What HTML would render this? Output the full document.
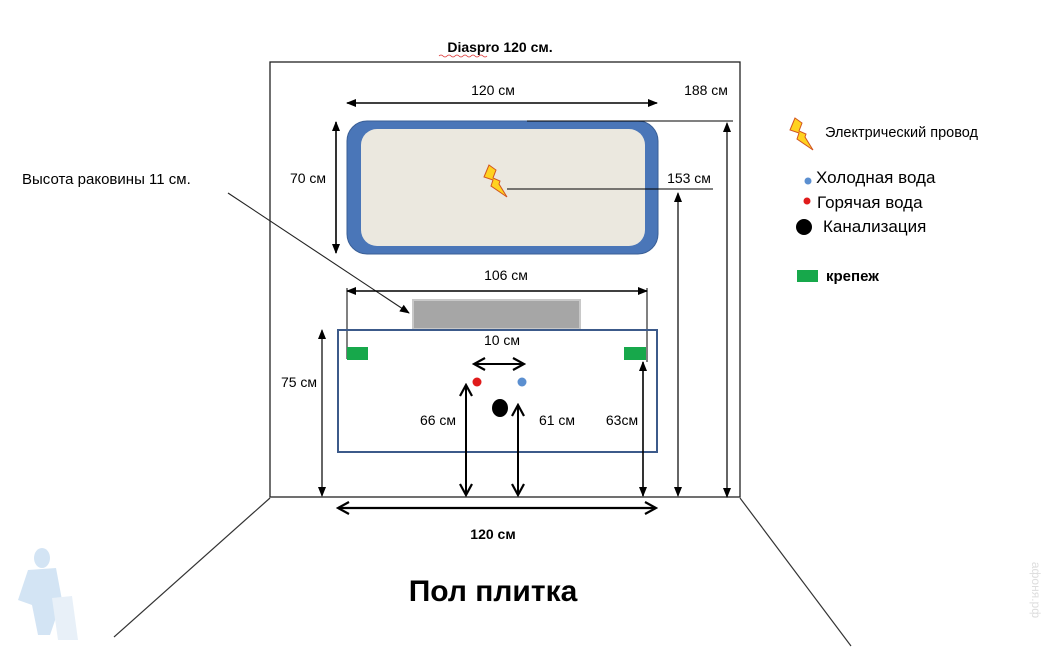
<!DOCTYPE html>
<html><head><meta charset="utf-8"><style>
html,body{margin:0;padding:0;background:#fff;}
svg{display:block;font-family:"Liberation Sans","DejaVu Sans",sans-serif;}
</style></head><body>
<svg width="1047" height="661" viewBox="0 0 1047 661" xmlns="http://www.w3.org/2000/svg">
<defs>
<marker id="a" markerWidth="10" markerHeight="10" refX="9" refY="5" orient="auto-start-reverse" markerUnits="userSpaceOnUse"><path d="M0,1 L10,5 L0,9 Z" fill="#000"/></marker>
<marker id="b" markerWidth="14" markerHeight="14" refX="12" refY="7" orient="auto-start-reverse" markerUnits="userSpaceOnUse"><path d="M1,1 L12,7 L1,13" fill="none" stroke="#000" stroke-width="2.2"/></marker>
</defs>
<rect width="1047" height="661" fill="#fff"/>
<!-- wall -->
<rect x="270" y="62" width="470" height="435" fill="none" stroke="#222" stroke-width="1.3"/>
<line x1="270" y1="498" x2="114" y2="637" stroke="#333" stroke-width="1.2"/>
<line x1="740" y1="498" x2="851" y2="646" stroke="#333" stroke-width="1.2"/>
<text x="500" y="52" font-size="14" font-weight="bold" text-anchor="middle">Diaspro 120 см.</text>
<path d="M439,56 q2,-2 4,0 q2,2 4,0 q2,-2 4,0 q2,2 4,0 q2,-2 4,0 q2,2 4,0 q2,-2 4,0 q2,2 4,0 q2,-2 4,0 q2,2 4,0 q2,-2 4,0 q2,2 4,0" fill="none" stroke="#d33" stroke-width="0.8"/>
<!-- mirror -->
<rect x="347" y="121" width="311" height="133" rx="20" fill="#4a76b8" stroke="#3a5f96" stroke-width="1"/>
<rect x="361" y="129" width="284" height="117" rx="16" fill="#ebe8df"/>
<line x1="347" y1="103" x2="657" y2="103" stroke="#000" stroke-width="1.6" marker-start="url(#a)" marker-end="url(#a)"/>
<text x="493" y="95" font-size="14" text-anchor="middle">120 см</text>
<text x="706" y="95" font-size="14" text-anchor="middle">188 см</text>
<line x1="527" y1="121" x2="733" y2="121" stroke="#000" stroke-width="1"/>
<line x1="727" y1="123" x2="727" y2="497" stroke="#000" stroke-width="1.2" marker-start="url(#a)" marker-end="url(#a)"/>
<text x="689" y="183" font-size="14" text-anchor="middle">153 см</text>
<line x1="507" y1="189" x2="713" y2="189" stroke="#000" stroke-width="1"/>
<line x1="678" y1="193" x2="678" y2="496" stroke="#000" stroke-width="1.2" marker-start="url(#a)" marker-end="url(#a)"/>
<text x="308" y="183" font-size="14" text-anchor="middle">70 см</text>
<line x1="336" y1="122" x2="336" y2="253" stroke="#000" stroke-width="1.6" marker-start="url(#a)" marker-end="url(#a)"/>
<path d="M489,165 L484,177 L493,180 L491,186 L507,197 L499,184 L500,181 L493,178 L496,170 Z" fill="#ffd21f" stroke="#d2551f" stroke-width="1"/>
<!-- label -->
<text x="22" y="184" font-size="15">Высота раковины  11 см.</text>
<line x1="228" y1="193" x2="409" y2="313" stroke="#222" stroke-width="1.1" marker-end="url(#a)"/>
<!-- sink -->
<text x="506" y="280" font-size="14" text-anchor="middle">106 см</text>
<line x1="347" y1="291" x2="647" y2="291" stroke="#000" stroke-width="1.6" marker-start="url(#a)" marker-end="url(#a)"/>
<line x1="347" y1="288" x2="347" y2="359" stroke="#000" stroke-width="1"/>
<line x1="647" y1="288" x2="647" y2="362" stroke="#000" stroke-width="1"/>
<rect x="413" y="300" width="167" height="29" fill="#a6a6a6" stroke="#c8c8c8" stroke-width="2"/>
<rect x="338" y="330" width="319" height="122" fill="none" stroke="#3c5a8a" stroke-width="2"/>
<rect x="347" y="347" width="21" height="13" fill="#17a84b"/>
<rect x="624" y="347" width="22" height="13" fill="#17a84b"/>
<text x="502" y="345" font-size="14" text-anchor="middle">10 см</text>
<line x1="474" y1="364" x2="524" y2="364" stroke="#000" stroke-width="2" marker-start="url(#b)" marker-end="url(#b)"/>
<circle cx="477" cy="382" r="4.5" fill="#e01b1b"/>
<circle cx="522" cy="382" r="4.5" fill="#5b8fd0"/>
<ellipse cx="500" cy="408" rx="8" ry="9" fill="#000"/>
<line x1="466" y1="385" x2="466" y2="495" stroke="#000" stroke-width="2" marker-start="url(#b)" marker-end="url(#b)"/>
<line x1="518" y1="405" x2="518" y2="495" stroke="#000" stroke-width="2" marker-start="url(#b)" marker-end="url(#b)"/>
<line x1="643" y1="362" x2="643" y2="496" stroke="#000" stroke-width="1.6" marker-start="url(#a)" marker-end="url(#a)"/>
<line x1="322" y1="330" x2="322" y2="496" stroke="#000" stroke-width="1.2" marker-start="url(#a)" marker-end="url(#a)"/>
<text x="438" y="425" font-size="14" text-anchor="middle">66 см</text>
<text x="557" y="425" font-size="14" text-anchor="middle">61 см</text>
<text x="622" y="425" font-size="14" text-anchor="middle">63см</text>
<text x="299" y="387" font-size="14" text-anchor="middle">75 см</text>
<line x1="338" y1="508" x2="656" y2="508" stroke="#000" stroke-width="2.2" marker-start="url(#b)" marker-end="url(#b)"/>
<text x="493" y="539" font-size="14" font-weight="bold" text-anchor="middle">120 см</text>
<text x="493" y="601" font-size="30" font-weight="bold" text-anchor="middle">Пол плитка</text>
<!-- legend -->
<path d="M795,118 L790,130 L799,133 L797,139 L813,150 L805,137 L806,134 L799,131 L802,123 Z" fill="#ffd21f" stroke="#d2551f" stroke-width="1"/>
<text x="825" y="137" font-size="14.5">Электрический провод</text>
<circle cx="808" cy="181" r="3.5" fill="#5b8fd0"/>
<text x="816" y="183" font-size="17">Холодная вода</text>
<circle cx="807" cy="201" r="3.5" fill="#e01b1b"/>
<text x="817" y="208" font-size="17">Горячая вода</text>
<circle cx="804" cy="227" r="8" fill="#000"/>
<text x="823" y="232" font-size="17">Канализация</text>
<rect x="797" y="270" width="21" height="12" fill="#17a84b"/>
<text x="826" y="281" font-size="15" font-weight="bold">крепеж</text>
<!-- faint plumber -->
<g fill="#cfe2f3" opacity="0.9">
<ellipse cx="42" cy="558" rx="8" ry="10"/>
<path d="M28,570 L56,568 L62,600 L50,635 L38,635 L32,605 L18,600 Z"/>
<path d="M52,598 L72,596 L78,640 L58,640 Z" fill="#e6eff8"/>
</g>
<text x="1032" y="590" font-size="12" fill="#ddd" transform="rotate(90 1032 590)" text-anchor="middle">афоня.рф</text>
</svg>
</body></html>
